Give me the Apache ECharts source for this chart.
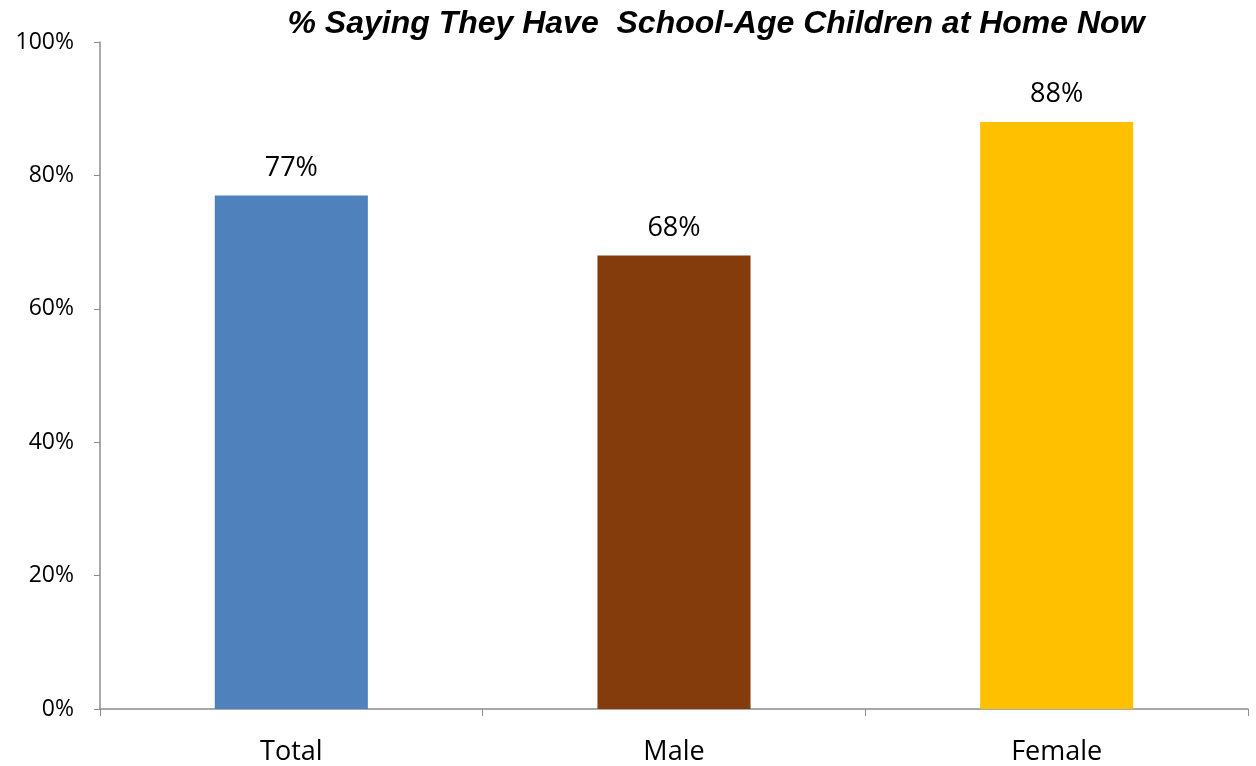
<!DOCTYPE html>
<html><head><meta charset="utf-8">
<script src="https://cdn.jsdelivr.net/npm/echarts@6/dist/echarts.min.js"></script>
<style>html,body{margin:0;padding:0;background:#fff}#c{width:1256px;height:766px}</style>
</head><body><div id="c"></div>
<script>
const categories = ['Total', 'Male', 'Female'];
const values = [77, 68, 88];
const colors = ['#4f81bd', '#843c0c', '#ffc000'];
const yTicks = [0, 20, 40, 60, 80, 100];
const titleText = '% Saying They Have  School-Age Children at Home Now';

const chart = echarts.init(document.getElementById('c'));
chart.setOption({
  animation: false,
  backgroundColor: '#fff',
  title: {
    text: titleText, left: 711, top: 3, textAlign: 'center',
    textStyle: { fontFamily: 'Liberation Sans Narrow, Liberation Sans', fontStyle: 'italic', fontWeight: 'bold', fontSize: 32, color: '#000' }
  },
  grid: { left: 100, right: 8, top: 42, bottom: 57, containLabel: false },
  xAxis: {
    type: 'category', data: categories,
    axisLine: { lineStyle: { color: '#8c8c8c', width: 1.5 } },
    axisTick: { show: true, length: 7, lineStyle: { color: '#8c8c8c' } },
    axisLabel: { fontSize: 27, color: '#000', margin: 30, fontFamily: 'Open Sans' }
  },
  yAxis: {
    type: 'value', min: 0, max: 100, interval: 20,
    splitLine: { show: false },
    axisLine: { show: true, lineStyle: { color: '#8c8c8c', width: 1.5 } },
    axisTick: { show: true, length: 6, lineStyle: { color: '#8c8c8c' } },
    axisLabel: { fontSize: 23, color: '#000', margin: 26, fontFamily: 'Open Sans',
      formatter: v => yTicks.includes(v) ? v + '%' : '' }
  },
  series: [{
    type: 'bar', barWidth: '40%',
    data: values.map((v, i) => ({ value: v, itemStyle: { color: colors[i] } })),
    label: { show: true, position: 'top', distance: 14, fontSize: 27, color: '#000', fontFamily: 'Open Sans', formatter: p => p.value + '%' }
  }]
});
</script></body></html>
